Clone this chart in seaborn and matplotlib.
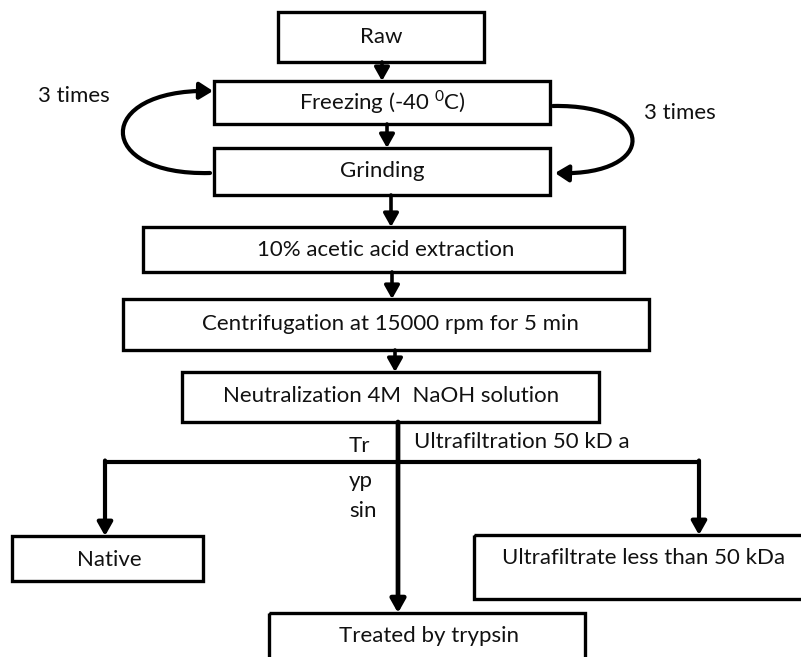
import matplotlib
matplotlib.use("Agg")
import matplotlib.pyplot as plt
import seaborn as sns
from matplotlib.patches import Rectangle, FancyArrowPatch
from matplotlib.path import Path

sns.set_style("white")
plt.rcParams['font.family'] = ['Lato', 'DejaVu Sans']
plt.rcParams['mathtext.fontset'] = 'custom'
plt.rcParams['mathtext.rm'] = 'Lato'

# flowchart steps (labels) and their boxes in pixel units (x0, x1, y0, y1), y going down
step_labels = ["Raw", "Freezing (-40 $^{0}$C)", "Grinding", "10% acetic acid extraction",
               "Centrifugation at 15000 rpm for 5 min", "Neutralization 4M  NaOH solution",
               "Native", "Ultrafiltrate less than 50 kDa", "Treated by trypsin"]
box_x0 = [278, 214, 214, 143, 123, 182, 12, 474, 269]
box_x1 = [484, 550, 550, 624, 649, 599, 203, 815, 585]
box_y0 = [12, 81, 148, 227, 299, 372, 536, 535, 613]
box_y1 = [62, 124, 195, 272, 350, 422, 581, 599, 670]
label_x = [381, 382, 382, 386, 390, 391, 109, 644, 429]
label_y = [37, 102, 171, 250, 324, 396, 560, 558, 636]

# straight arrows between the steps: x, y_start, y_end
arrow_x = [382, 387, 391, 392, 395]
arrow_y0 = [62, 124, 195, 272, 350]
arrow_y1 = [81, 148, 227, 299, 372]

loop_note = "3 times"
branch_labels = ["Tr", "yp", "sin"]
filter_note = "Ultrafiltration 50 kD a"

fig = plt.figure(figsize=(8.01, 6.57), dpi=100)
ax = fig.add_axes([0, 0, 1, 1])
ax.set_xlim(0, 801)
ax.set_ylim(657, 0)
ax.axis('off')

fs = 16
lw = 2.4

for lab, x0, x1, y0, y1, tx, ty in zip(step_labels, box_x0, box_x1, box_y0, box_y1, label_x, label_y):
    ax.add_patch(Rectangle((x0, y0), x1 - x0, y1 - y0, fill=False, lw=lw, ec='black'))
    ax.text(tx, ty, lab, ha='center', va='center', fontsize=fs, color='#111111')

aprops = dict(arrowstyle='-|>,head_length=0.8,head_width=0.45', lw=2.6, color='black',
              shrinkA=0, shrinkB=0)
for x, y0, y1 in zip(arrow_x, arrow_y0, arrow_y1):
    ax.annotate("", xy=(x, y1), xytext=(x, y0), arrowprops=aprops)

# loops around freezing / grinding
left_loop = Path([(210, 173), (94, 176), (94, 89), (213, 91)],
                 [Path.MOVETO, Path.CURVE4, Path.CURVE4, Path.CURVE4])
right_loop = Path([(553, 106), (658, 104), (658, 176), (555, 173)],
                  [Path.MOVETO, Path.CURVE4, Path.CURVE4, Path.CURVE4])
for p in [left_loop, right_loop]:
    ax.add_patch(FancyArrowPatch(path=p, arrowstyle='-|>,head_length=8,head_width=5',
                                 lw=3, color='black', shrinkA=0, shrinkB=0))
ax.text(74, 96, loop_note, ha='center', va='center', fontsize=fs, color='#111111')
ax.text(680, 113, loop_note, ha='center', va='center', fontsize=fs, color='#111111')

# branching after neutralization
ax.plot([105, 699], [462, 462], color='black', lw=3, solid_capstyle='butt')
ax.annotate("", xy=(398, 613), xytext=(398, 422), arrowprops=dict(aprops, lw=3.4))
ax.annotate("", xy=(105, 536), xytext=(105, 460.5), arrowprops=dict(aprops, lw=3))
ax.annotate("", xy=(699, 535), xytext=(699, 460.5), arrowprops=dict(aprops, lw=3))

for lab, y in zip(branch_labels, [446, 481, 511]):
    ax.text(349, y, lab, ha='left', va='center', fontsize=fs, color='#111111')
ax.text(414, 442, filter_note, ha='left', va='center', fontsize=fs, color='#111111')

fig.savefig("out.png", dpi=100, facecolor='white')
